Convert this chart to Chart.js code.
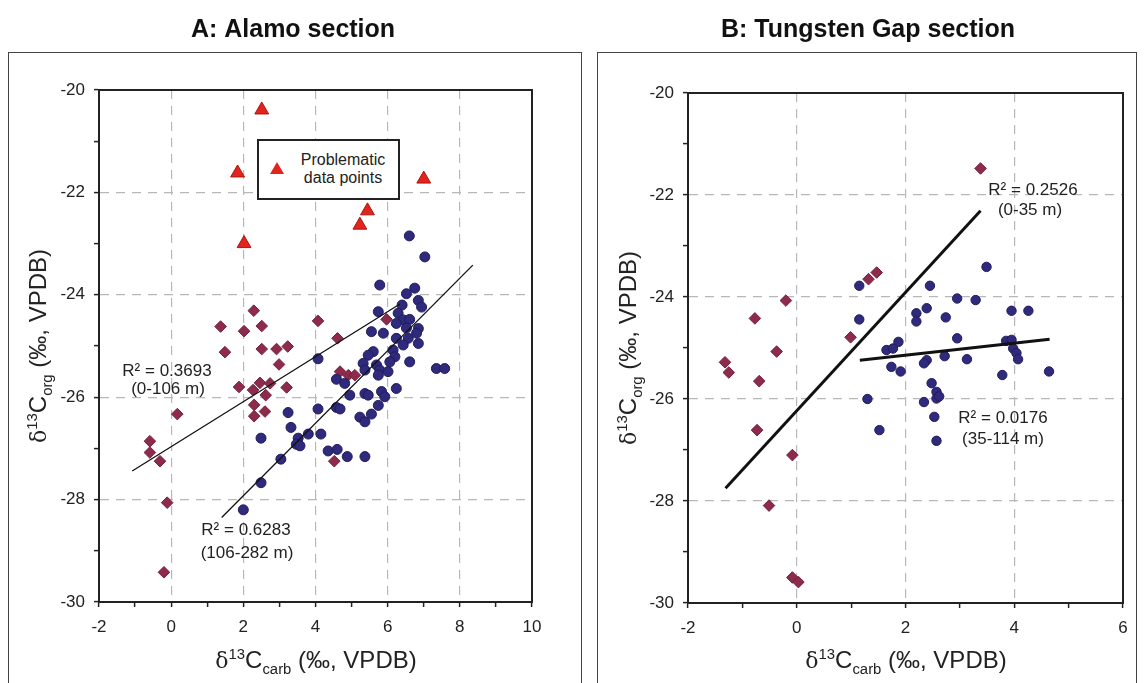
<!DOCTYPE html>
<html lang="en">
<head>
<meta charset="UTF-8">
<title>Alamo and Tungsten Gap sections</title>
<script src="https://cdn.jsdelivr.net/npm/chart.js"></script>
<style>
  body { margin: 0; width: 1144px; height: 683px; position: relative; overflow: hidden; background: #fff;
         font-family: "Liberation Sans", Arial, sans-serif; color: #222; }
  canvas { position: absolute; top: 0; }
  .frame { position: absolute; top: 52px; height: 700px; border: 1.5px solid #444; }
  .lbl { position: absolute; font-size: 17px; white-space: nowrap; transform: translate(-50%, -50%); }
  .axt { position: absolute; font-family: "Liberation Sans Narrow", "Liberation Sans", sans-serif; font-size: 24px;
         white-space: nowrap; transform: translate(-50%, -50%); }
  .axt.rot { transform: translate(-50%, -50%) rotate(-90deg); }
  .d { font-family: "DejaVu Serif", serif; font-size: 22px; }
  sup, sub { font-size: 0.62em; line-height: 0; }
  .legend { position: absolute; left: 257px; top: 139px; width: 139px; height: 57px; border: 2px solid #222; background: #fff; }
  .legend .tri { position: absolute; left: 11px; top: 21px; width: 0; height: 0;
                 border-left: 7px solid transparent; border-right: 7px solid transparent; border-bottom: 12px solid #e3231d; }
  .legend .txt { position: absolute; left: 32px; top: 10px; width: 104px; text-align: center; font-size: 16px; line-height: 18px; }
</style>
</head>
<body>
<div class="frame" style="left:8px; width:572px;"></div>
<div class="frame" style="left:597px; width:538px;"></div>

<canvas id="chartA" width="570" height="683" style="left:0px;"></canvas>
<canvas id="chartB" width="554" height="683" style="left:590px;"></canvas>

<div class="legend"><div class="tri"></div><div class="txt">Problematic<br>data points</div></div>

<div class="lbl" style="left:167px; top:371px;">R² = 0.3693</div>
<div class="lbl" style="left:168px; top:389px;">(0-106 m)</div>
<div class="lbl" style="left:246px; top:530px;">R² = 0.6283</div>
<div class="lbl" style="left:247px; top:553px;">(106-282 m)</div>
<div class="lbl" style="left:1033px; top:190px;">R² = 0.2526</div>
<div class="lbl" style="left:1030px; top:210px;">(0-35 m)</div>
<div class="lbl" style="left:1003px; top:418px;">R² = 0.0176</div>
<div class="lbl" style="left:1003px; top:439px;">(35-114 m)</div>

<div class="axt" style="left:316px; top:660px;"><span class="d">δ</span><sup>13</sup>C<sub>carb</sub> (‰, VPDB)</div>
<div class="axt" style="left:906px; top:660px;"><span class="d">δ</span><sup>13</sup>C<sub>carb</sub> (‰, VPDB)</div>
<div class="axt rot" style="left:38px; top:346px;"><span class="d">δ</span><sup>13</sup>C<sub>org</sub> (‰, VPDB)</div>
<div class="axt rot" style="left:628px; top:348px;"><span class="d">δ</span><sup>13</sup>C<sub>org</sub> (‰, VPDB)</div>

<script>
// ---- data: [d13C carb, d13C org] ----
// A: Alamo section
const alamoLower = [ // 0-106 m (diamonds)
  [2.29,-24.31],[1.37,-24.62],[2.02,-24.71],[2.51,-24.61],[1.49,-25.12],[2.51,-25.06],[2.92,-25.06],
  [3.23,-25.01],[2.99,-25.36],[1.88,-25.80],[2.27,-25.86],[2.46,-25.72],[2.74,-25.73],[2.62,-25.96],
  [3.20,-25.81],[2.30,-26.15],[2.30,-26.37],[2.60,-26.28],[0.17,-26.33],[-0.59,-26.86],[-0.59,-27.08],
  [-0.31,-27.25],[-0.11,-28.06],[-0.20,-29.42],[4.07,-24.51],[4.61,-24.85],[5.97,-24.48],[4.68,-25.50],
  [4.91,-25.57],[5.09,-25.57],[4.52,-27.25]
];
const alamoUpper = [ // 106-282 m (circles)
  [3.24,-26.30],[3.32,-26.59],[2.49,-26.80],[3.52,-26.80],[3.47,-26.92],[3.80,-26.72],[3.04,-27.21],
  [2.49,-27.67],[2.00,-28.20],[5.78,-23.81],[6.75,-23.87],[6.52,-23.98],[6.85,-24.11],[6.94,-24.24],
  [6.40,-24.20],[5.74,-24.33],[6.29,-24.36],[6.43,-24.49],[6.61,-24.48],[6.85,-24.66],[6.80,-24.75],
  [6.52,-24.65],[6.24,-24.56],[5.55,-24.72],[5.88,-24.75],[6.24,-24.85],[6.57,-24.85],[6.85,-24.95],
  [6.43,-24.98],[6.15,-25.08],[5.60,-25.11],[5.46,-25.18],[6.20,-25.21],[6.06,-25.31],[6.61,-25.31],
  [4.07,-25.25],[5.32,-25.34],[5.69,-25.37],[5.37,-25.47],[5.78,-25.47],[6.01,-25.50],[5.74,-25.57],
  [7.35,-25.44],[7.58,-25.44],[4.58,-25.65],[4.81,-25.73],[4.95,-25.96],[5.37,-25.93],[5.46,-25.96],
  [5.83,-25.89],[5.92,-25.99],[6.24,-25.83],[4.07,-26.23],[4.58,-26.20],[4.68,-26.23],[5.74,-26.16],
  [5.55,-26.33],[5.23,-26.39],[5.37,-26.48],[3.57,-26.95],[4.15,-26.72],[4.35,-27.05],[4.60,-27.02],
  [4.88,-27.16],[5.37,-27.16],[6.60,-22.85],[7.03,-23.26]
];
const alamoProblem = [[2.51,-20.39],[1.84,-21.62],[2.02,-23.00],[7.00,-21.74],[5.44,-22.36],[5.23,-22.64]];
const alamoFitLower = [[-1.08,-27.44],[6.34,-24.18]];
const alamoFitUpper = [[1.40,-28.35],[8.36,-23.42]];

// B: Tungsten Gap section
const tungLower = [ // 0-35 m (diamonds)
  [1.32,-23.65],[1.47,-23.52],[-0.20,-24.07],[-0.77,-24.42],[0.99,-24.79],[3.38,-21.48],[-1.32,-25.28],
  [-1.25,-25.48],[-0.37,-25.07],[-0.69,-25.65],[-0.73,-26.61],[-0.08,-27.10],[-0.51,-28.09],
  [-0.08,-29.50],[0.03,-29.59]
];
const tungUpper = [ // 35-114 m (circles)
  [1.15,-23.78],[1.15,-24.44],[2.45,-23.78],[2.20,-24.32],[2.39,-24.22],[2.20,-24.48],[1.87,-24.88],
  [1.65,-25.04],[1.77,-25.01],[1.74,-25.37],[1.91,-25.46],[2.39,-25.24],[2.34,-25.30],[1.30,-26.00],
  [1.52,-26.61],[2.48,-25.69],[2.57,-25.86],[2.57,-25.99],[2.34,-26.06],[2.53,-26.35],[2.57,-26.82],
  [3.49,-23.41],[2.95,-24.03],[3.29,-24.06],[3.95,-24.27],[4.26,-24.27],[2.74,-24.40],[2.95,-24.81],
  [3.85,-24.86],[3.95,-24.84],[3.98,-25.01],[4.04,-25.10],[4.07,-25.22],[2.72,-25.16],[3.13,-25.22],
  [3.78,-25.53],[4.64,-25.46],[2.62,-25.95]
];
const tungFitLower = [[-1.31,-27.75],[3.38,-22.31]];
const tungFitUpper = [[1.16,-25.24],[4.65,-24.83]];

// axis ranges
const yRange = [-30, -20];
const xRangeA = [-2, 10];
const xRangeB = [-2, 6];

const tickFont = { family: '"Liberation Sans Narrow", "Liberation Sans", sans-serif', size: 17 };
const pts = arr => arr.map(p => ({ x: p[0], y: p[1] }));

// box around the plot area
const plotFrame = {
  id: 'plotFrame',
  afterDraw(chart) {
    const a = chart.chartArea, c = chart.ctx;
    c.save();
    c.strokeStyle = '#222';
    c.lineWidth = 2;
    c.strokeRect(a.left, a.top, a.right - a.left, a.bottom - a.top);
    c.restore();
  }
};

function axis(min, max, isX, yWidth) {
  return {
    type: 'linear', min: min, max: max,
    afterFit: s => { if (isX) s.height = 30; else s.width = yWidth; },
    ticks: {
      stepSize: 1, autoSkip: false, maxRotation: 0, padding: isX ? 10 : 9,
      color: '#222', font: tickFont,
      callback: v => (v % 2 === 0 ? String(v) : '')
    },
    grid: {
      color: c => (c.tick && c.tick.value % 2 === 0 && c.tick.value > min && c.tick.value < max) ? '#b8b8b8' : 'rgba(0,0,0,0)',
      lineWidth: 1.2,
      tickColor: '#222', tickWidth: 1.5, tickLength: 5, tickBorderDash: []
    },
    border: { display: true, color: '#222', width: 2, dash: [9, 7] }
  };
}

function scatterSet(data, style, radius, fill, edge) {
  return { data: pts(data), pointStyle: style, pointRadius: radius, pointHoverRadius: radius,
           backgroundColor: fill, borderColor: edge, borderWidth: 1, showLine: false };
}
function fitSet(data, w) {
  return { data: pts(data), showLine: true, pointRadius: 0, borderColor: '#111', borderWidth: w, fill: false };
}

// yWidth also moves the (full-width) title left/right
function makeChart(id, title, titleBottom, pad, xr, yWidth, sets) {
  return new Chart(document.getElementById(id), {
    type: 'scatter',
    data: { datasets: sets },
    options: {
      responsive: false, animation: false,
      layout: { padding: pad },
      plugins: {
        legend: { display: false },
        tooltip: { enabled: false },
        title: { display: true, text: title, color: '#111',
                 font: { family: '"Liberation Sans", Arial, sans-serif', size: 25, weight: 'bold' },
                 padding: { top: 15, bottom: titleBottom } }
      },
      scales: { x: axis(xr[0], xr[1], true), y: axis(yRange[0], yRange[1], false, yWidth) }
    },
    plugins: [plotFrame]
  });
}

const diamondFill = '#8e2a4c', diamondEdge = '#74203d';
const circleFill = '#2f2a7c', circleEdge = '#221c5e';

makeChart('chartA', 'A: Alamo section', 90 - 15 - 30, { left: 54, right: 38, top: 0, bottom: 51 }, xRangeA, 45, [
  fitSet(alamoFitLower, 1.3),
  fitSet(alamoFitUpper, 1.3),
  scatterSet(alamoProblem, 'triangle', 8, '#e3231d', '#a8170f'),
  scatterSet(alamoUpper, 'circle', 5, circleFill, circleEdge),
  scatterSet(alamoLower, 'rectRot', 5.8, diamondFill, diamondEdge)
]);

makeChart('chartB', 'B: Tungsten Gap section', 93 - 15 - 30, { left: 23, right: 21, top: 0, bottom: 50 }, xRangeB, 75, [
  fitSet(tungFitLower, 3),
  fitSet(tungFitUpper, 3),
  scatterSet(tungUpper, 'circle', 4.7, circleFill, circleEdge),
  scatterSet(tungLower, 'rectRot', 5.8, diamondFill, diamondEdge)
]);
</script>
</body>
</html>
